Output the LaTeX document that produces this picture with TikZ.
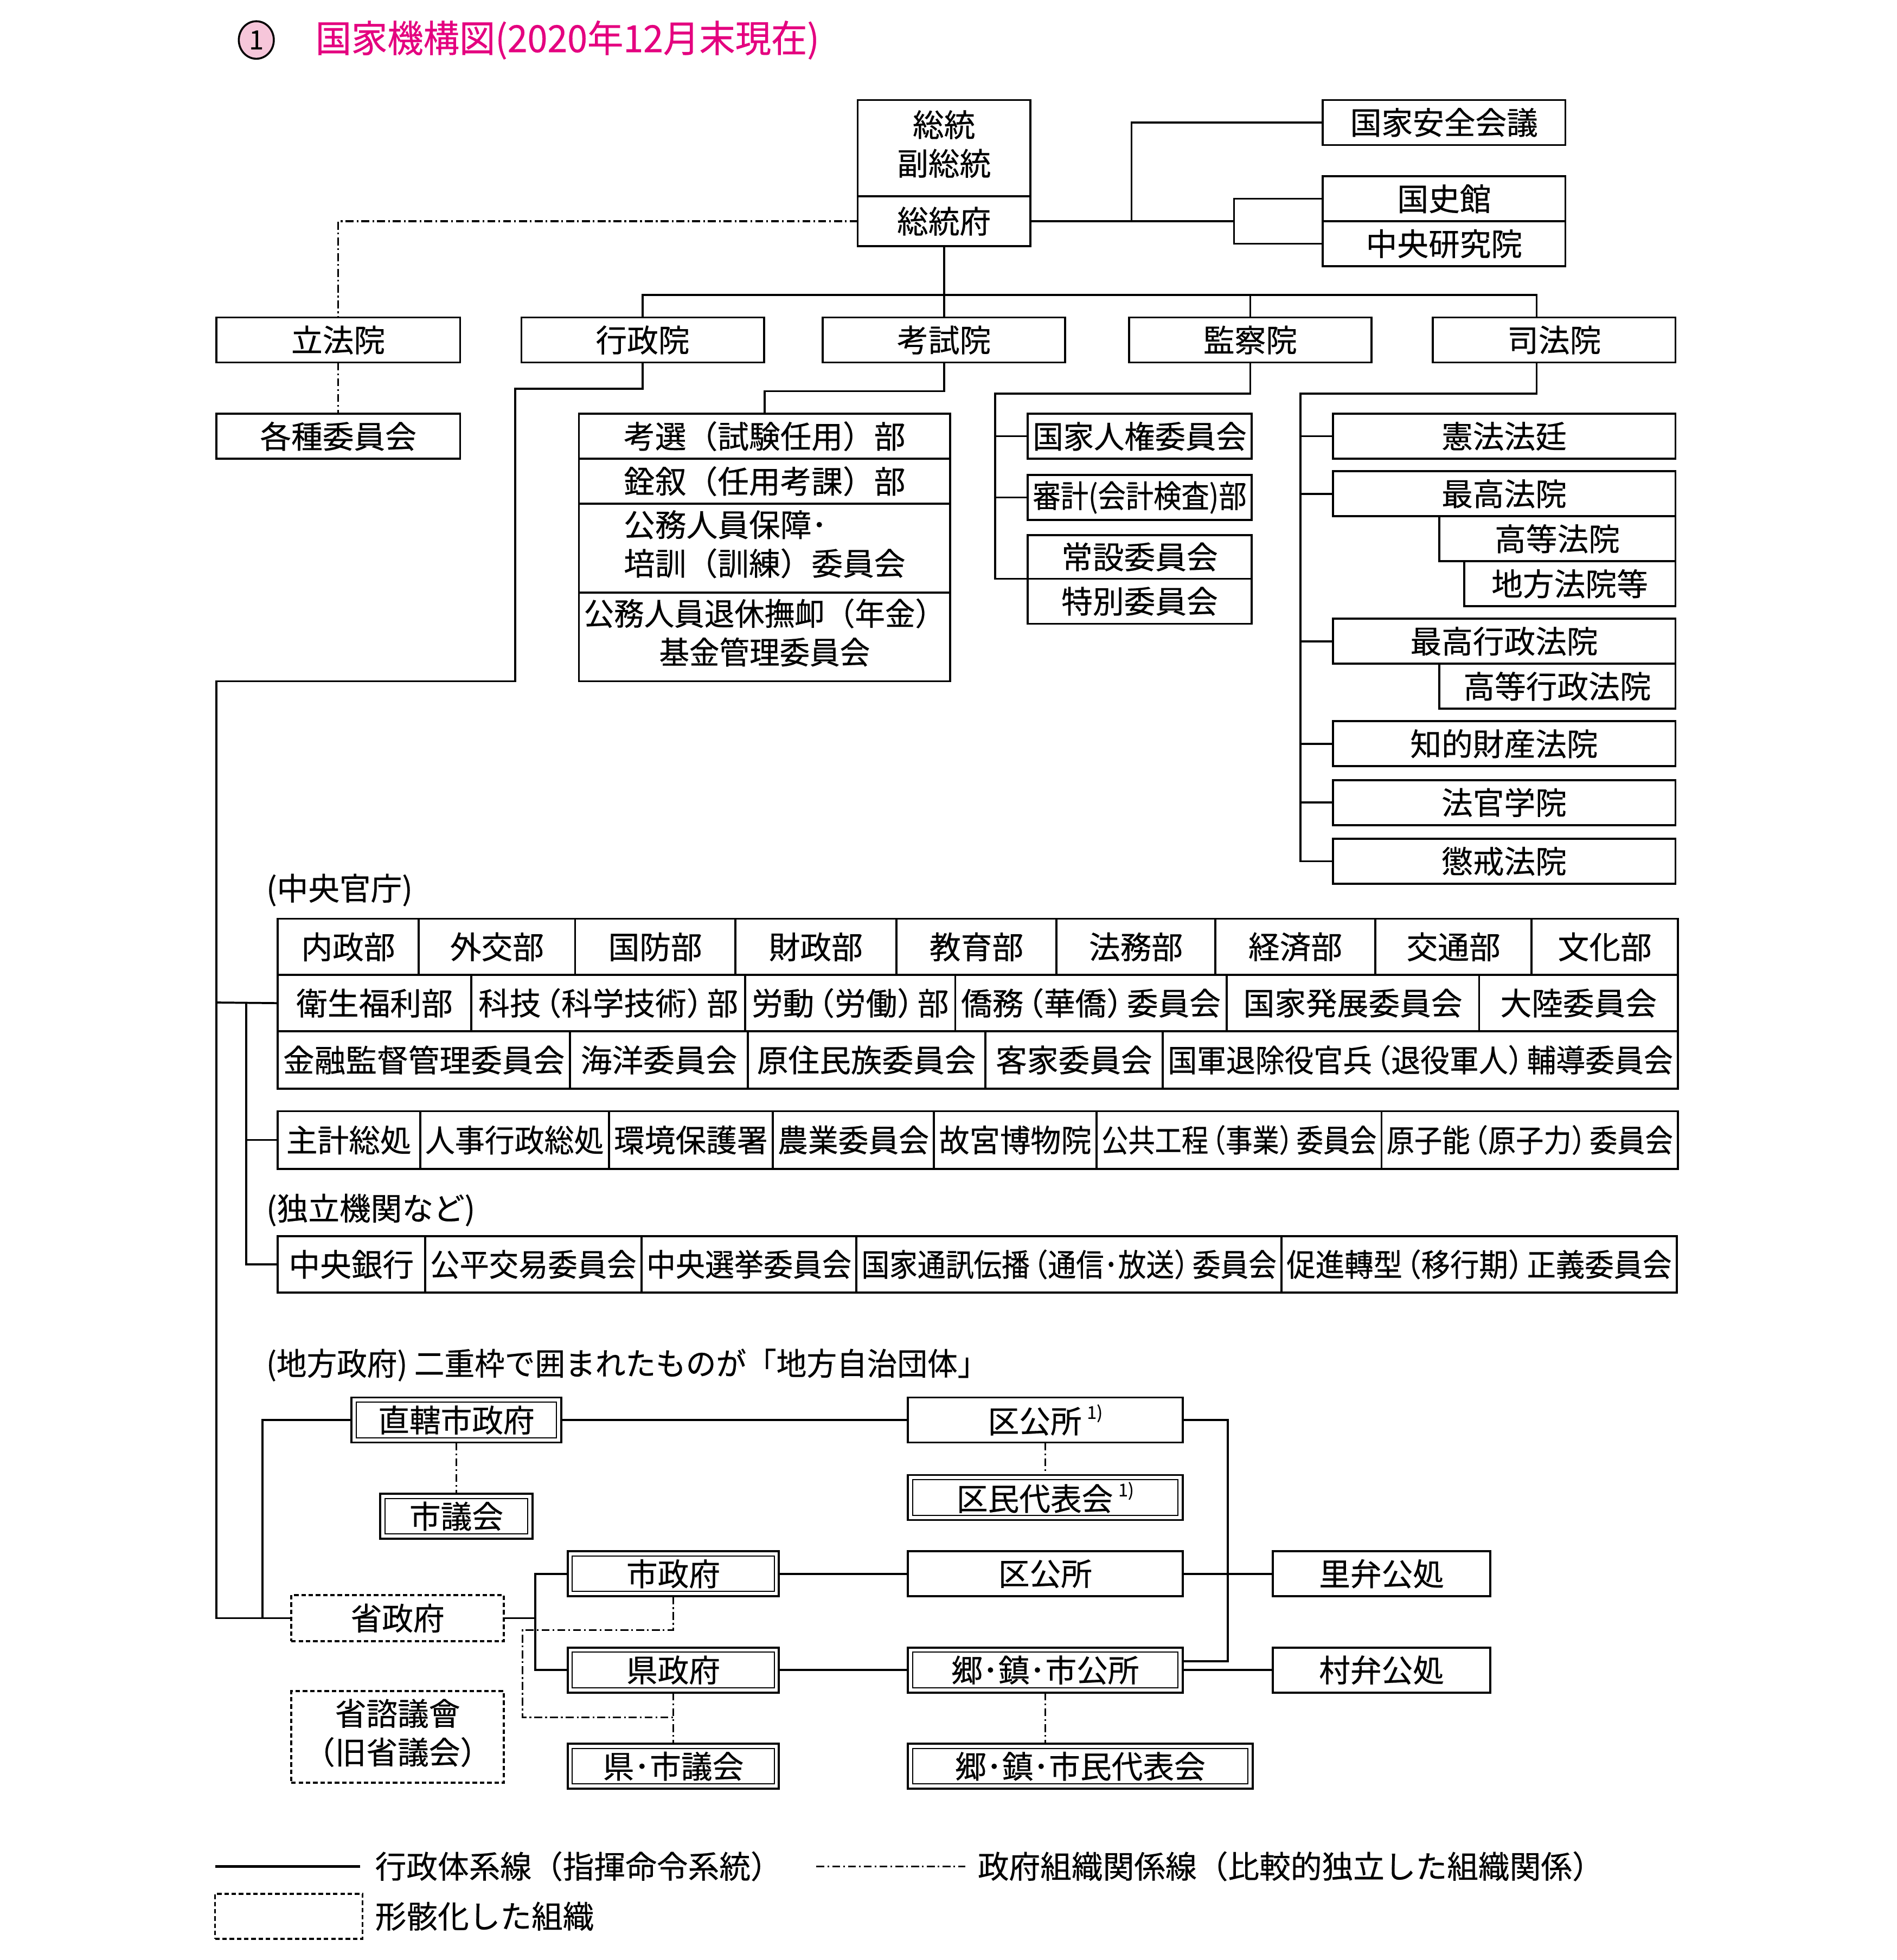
\documentclass[tikz,border=0pt]{standalone}
\usepackage{fontspec}
\usepackage{graphicx}
\usetikzlibrary{shapes.geometric}
\newfontfamily\jp{Noto Sans CJK JP}[FakeBold=0.4]
\definecolor{tmag}{HTML}{E4007F}
\definecolor{cpink}{HTML}{F6C6DA}
\newdimen\ul \ul=0.25mm
\newsavebox\fitbox
\newcommand\fit[2]{\sbox\fitbox{#2}\ifdim\wd\fitbox>#1\relax\resizebox{#1}{\ht\fitbox}{\usebox\fitbox}\else\usebox\fitbox\fi}
\newcommand\ml[2][c]{\begin{tabular}{@{}#1@{}}#2\end{tabular}}
\newcommand\lp{\kern-0.35em（}
\newcommand\rp{）\kern-0.35em}
\newcommand\mkbox[7][]{\node[bx,#1,minimum width={(#5-#3)*0.25mm},minimum height={(#6-#4)*0.25mm}] (#2) at ({(#3+#5)/2},{(#4+#6)/2}) {\fit{\dimexpr\ul*(#5-#3-8)\relax}{#7}};}
\newcommand\mkdbox[7][]{\mkbox[#1]{#2}{#3}{#4}{#5}{#6}{#7}\draw[line width=0.6pt] ([shift={(0.95mm,0.95mm)}]#2.south west) rectangle ([shift={(-0.95mm,-0.95mm)}]#2.north east);}
\tikzset{
  jpf/.style={font=\jp\fontsize{17.8pt}{22pt}\selectfont},
  bx/.style={draw, line width=1.15pt, inner sep=0pt, outer sep=0pt, rectangle, jpf},
  ln/.style={line width=1.15pt},
  dd/.style={line width=1pt, dash pattern=on 1.6mm off 0.6mm on 0.35mm off 0.6mm},
  dsh/.style={dash pattern=on 0.9mm off 0.55mm},
  lbl/.style={inner sep=0pt, outer sep=0pt, anchor=west, jpf},
}
\begin{document}
\begin{tikzpicture}[x=0.25mm, y=-0.25mm]
\fill[white] (0,0) rectangle (1517,1568);
\useasboundingbox (0,0) rectangle (1517,1568);

% title
\node[ellipse, draw, line width=1.1pt, fill=cpink, minimum width=7mm, minimum height=7.5mm, inner sep=0pt, font=\jp\fontsize{15pt}{15pt}\selectfont] (num) at (205,32) {1};
\node[anchor=west, inner sep=0pt, text=tmag, font=\jp\fontsize{21.3pt}{22pt}\selectfont] (title) at (252,32) {\fit{\dimexpr\ul*403\relax}{国家機構図(2020年12月末現在)}};

% top
\mkbox{zt}{686}{80}{824}{157}{\ml{総統\\副総統}}
\mkbox{zf}{686}{157}{824}{197}{総統府}
\mkbox{nsc}{1058}{80}{1252}{116}{国家安全会議}
\mkbox{kshk}{1058}{141}{1252}{177}{国史館}
\mkbox{ckyk}{1058}{177}{1252}{213}{中央研究院}

\mkbox{rippo}{173}{254}{368}{290}{立法院}
\mkbox{kakushu}{173}{331}{368}{367}{各種委員会}
\mkbox{gyosei}{417}{254}{611}{290}{行政院}
\mkbox{koshi}{658}{254}{852}{290}{考試院}
\mkbox{kansatsu}{903}{254}{1097}{290}{監察院}
\mkbox{shiho}{1146}{254}{1340}{290}{司法院}

% examination yuan
\mkbox{k1}{463}{331}{760}{367}{考選（試験任用）部}
\mkbox{k2}{463}{367}{760}{403}{銓叙（任用考課）部}
\mkbox{k3}{463}{403}{760}{474}{\ml[l]{公務人員保障･\\培訓（訓練）委員会}}
\mkbox{k4}{463}{474}{760}{545}{\ml{公務人員退休撫卹（年金）\\基金管理委員会}}

% control yuan
\mkbox{jinken}{822}{331}{1001}{367}{国家人権委員会}
\mkbox{shinkei}{822}{380}{1001}{416}{審計(会計検査)部}
\mkbox{josetsu}{822}{428}{1001}{463}{常設委員会}
\mkbox{tokubetsu}{822}{463}{1001}{499}{特別委員会}

% judicial yuan
\mkbox{kenpo}{1066}{331}{1340}{367}{憲法法廷}
\mkbox{saiko}{1066}{377}{1340}{413}{最高法院}
\mkbox{koto}{1151}{413}{1340}{449}{高等法院}
\mkbox{chiho}{1171}{449}{1340}{485}{地方法院等}
\mkbox{saigyo}{1066}{495}{1340}{531}{最高行政法院}
\mkbox{kogyo}{1151}{531}{1340}{567}{高等行政法院}
\mkbox{chiteki}{1066}{577}{1340}{613}{知的財産法院}
\mkbox{hokan}{1066}{624}{1340}{660}{法官学院}
\mkbox{chokai}{1066}{671}{1340}{707}{懲戒法院}

% central ministries
\node[lbl] (lchuo) at (213,712) {(中央官庁)};
\foreach \a/\b/\t [count=\i] in {222/335/内政部,335/460/外交部,460/588/国防部,588/717/財政部,717/845/教育部,845/972/法務部,972/1100/経済部,1100/1225/交通部,1225/1342/文化部}
  {\mkbox{r1c\i}{\a}{735}{\b}{780}{\t}}
\foreach \a/\b/\t [count=\i] in {222/377/衛生福利部,377/596/科技\lp 科学技術\rp 部,596/764/労動\lp 労働\rp 部,764/981/僑務\lp 華僑\rp 委員会,981/1183/国家発展委員会,1183/1342/大陸委員会}
  {\mkbox{r2c\i}{\a}{780}{\b}{825}{\t}}
\foreach \a/\b/\t [count=\i] in {222/456/金融監督管理委員会,456/598/海洋委員会,598/788/原住民族委員会,788/930/客家委員会,930/1342/国軍退除役官兵\lp 退役軍人\rp 輔導委員会}
  {\mkbox{r3c\i}{\a}{825}{\b}{871}{\t}}
\foreach \a/\b/\t [count=\i] in {222/336/主計総処,336/487/人事行政総処,487/618/環境保護署,618/747/農業委員会,747/877/故宮博物院,877/1105/公共工程\lp 事業\rp 委員会,1105/1342/原子能\lp 原子力\rp 委員会}
  {\mkbox{t2c\i}{\a}{889}{\b}{935}{\t}}
\node[lbl] (ldoku) at (213,968) {(独立機関など)};
\foreach \a/\b/\t [count=\i] in {222/340/中央銀行,340/513/公平交易委員会,513/685/中央選挙委員会,685/1025/国家通訊伝播\lp 通信･放送\rp 委員会,1025/1341/促進轉型\lp 移行期\rp 正義委員会}
  {\mkbox{t3c\i}{\a}{989}{\b}{1034}{\t}}

% local government
\node[lbl] (lchiho) at (213,1092) {\fit{\dimexpr\ul*577\relax}{(地方政府) 二重枠で囲まれたものが「地方自治団体」}};
\mkdbox{zcs}{281}{1118}{449}{1154}{直轄市政府}
\mkdbox{sgk}{304}{1195}{426}{1231}{市議会}
\mkbox{kk1}{726}{1118}{946}{1154}{区公所\,\raisebox{0.45em}{\fontsize{10pt}{10pt}\selectfont 1)}}
\mkdbox{kmd}{726}{1180}{946}{1216}{区民代表会\,\raisebox{0.45em}{\fontsize{10pt}{10pt}\selectfont 1)}}
\mkdbox{shisei}{454}{1241}{623}{1277}{市政府}
\mkbox{kk2}{726}{1241}{946}{1277}{区公所}
\mkbox{rib}{1018}{1241}{1192}{1277}{里弁公処}
\mkbox[dsh]{shosei}{233}{1276}{403}{1313}{省政府}
\mkdbox{kensei}{454}{1318}{623}{1354}{県政府}
\mkdbox{gck}{726}{1318}{946}{1354}{郷･鎮･市公所}
\mkbox{sonb}{1018}{1318}{1192}{1354}{村弁公処}
\mkbox[dsh]{shoshi}{233}{1353}{403}{1426}{\ml{省諮議會\\（旧省議会）}}
\mkdbox{kemg}{454}{1395}{623}{1431}{県･市議会}
\mkdbox{gcm}{726}{1395}{1002}{1431}{郷･鎮･市民代表会}

% ---- connectors: top
\coordinate (jA) at (905,177);
\coordinate (jB) at (987,177);
\draw[ln] (zf.east) -- (jB);
\draw[ln] (jA) |- (nsc.west);
\draw[ln] (kshk.west) -| (jB) |- (ckyk.west);
\draw[dd] (zf.west) -| (rippo.north);
\draw[dd] (rippo.south) -- (kakushu.north);
\draw[ln] (zf.south) -- (koshi.north);
\coordinate (shihoT) at (1229,254);
\coordinate (shihoB) at (1229,290);
\draw[ln] (gyosei.north) |- (1229,236) -- (shihoT);
\draw[ln] (kansatsu.north) -- ++(0,-18);

% examination
\draw[ln] (koshi.south) -- ++(0,23) -| (k1.north);
% executive
\coordinate (jL) at (173,802);
\coordinate (jL2) at (197,802);
\coordinate (jL3) at (197,912);
\coordinate (jL4) at (210,1294.5);
\draw[ln] (gyosei.south) |- (412,311) |- (173,545) |- (shosei.west);
\draw[ln] (jL) -- (r2c1.west);
\draw[ln] (jL2) |- (t3c1.west);
\draw[ln] (jL3) -- (t2c1.west);
\draw[ln] (jL4) |- (zcs.west);
% control
\coordinate (kv) at (796,463);
\draw[ln] (kansatsu.south) -- ++(0,25) -| (kv) -- (josetsu.south west);
\draw[ln] (jinken.west) -- (jinken.west -| kv);
\draw[ln] (shinkei.west) -- (shinkei.west -| kv);
% judicial
\coordinate (sv) at (1040,315);
\draw[ln] (shihoB) |- (sv) |- (chokai.west);
\foreach \n in {kenpo,saiko,saigyo,chiteki,hokan}
  {\draw[ln] (\n.west) -- (\n.west -| sv);}

% local
\coordinate (jR) at (982,1329);
\coordinate (jS) at (428,1294.5);
\draw[ln] (zcs.east) -- (kk1.west);
\draw[dd] (zcs.south) -- (sgk.north);
\draw[dd] (kk1.south) -- (kmd.north);
\draw[ln] (kk1.east) -| (jR) -- (jR -| gck.east);
\draw[ln] (shisei.east) -- (kk2.west);
\draw[ln] (kk2.east) -- (rib.west);
\draw[ln] (kensei.east) -- (gck.west);
\draw[ln] (gck.east) -- (sonb.west);
\draw[ln] (shosei.east) -- (jS);
\draw[ln] (shisei.west) -| (jS) |- (kensei.west);
\coordinate (dA) at (418,1304);
\coordinate (dB) at (418,1374);
\draw[dd] (shisei.south) |- (dA) -- (dB) -- (dB -| kemg.north);
\draw[dd] (kensei.south) -- (kemg.north);
\draw[dd] (gck.south) -- (gck.south |- gcm.north);

% legend
\coordinate (lg1a) at (172,1493);
\coordinate (lg1b) at (288,1493);
\draw[line width=1.5pt] (lg1a) -- (lg1b);
\node[lbl] (lgt1) at (300,1493) {行政体系線（指揮命令系統）};
\coordinate (lg2a) at (653,1493);
\coordinate (lg2b) at (772,1493);
\draw[dd] (lg2a) -- (lg2b);
\node[lbl] (lgt2) at (782,1493) {政府組織関係線（比較的独立した組織関係）};
\mkbox[dsh]{lgbox}{172}{1515}{290}{1551}{}
\node[lbl] (lgt3) at (300,1533) {形骸化した組織};
\end{tikzpicture}
\end{document}
